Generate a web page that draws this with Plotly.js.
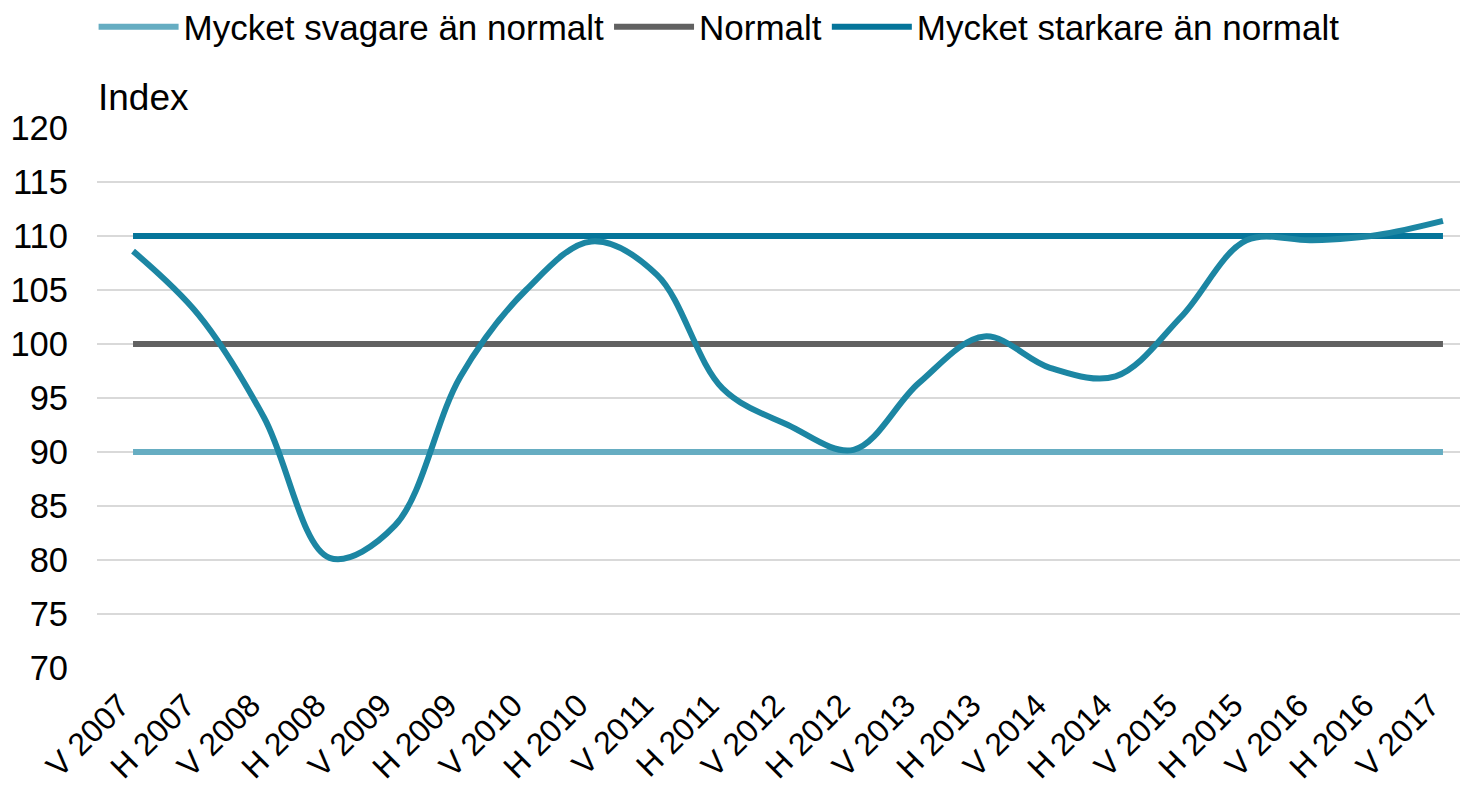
<!DOCTYPE html>
<html>
<head>
<meta charset="utf-8">
<script src="https://cdn.plot.ly/plotly-3.0.1.min.js"></script>
<style>
  html, body { margin: 0; padding: 0; background: #ffffff; }
  #chart { width: 1464px; height: 789px; }
</style>
</head>
<body>
<div id="chart"></div>
<script>
const categories = ["V 2007","H 2007","V 2008","H 2008","V 2009","H 2009","V 2010","H 2010","V 2011","H 2011",
                    "V 2012","H 2012","V 2013","H 2013","V 2014","H 2014","V 2015","H 2015","V 2016","H 2016","V 2017"];
const indexValues = [108.6,102.7,93.2,80.2,83.2,97.0,105.0,109.5,106.4,95.9,
                     92.5,90.2,96.4,100.7,97.8,97.0,102.5,109.6,109.6,110.1,111.4];
const muchWeaker = [90,90,90,90,90,90,90,90,90,90,90,90,90,90,90,90,90,90,90,90,90];
const normal     = [100,100,100,100,100,100,100,100,100,100,100,100,100,100,100,100,100,100,100,100,100];
const muchStronger = [110,110,110,110,110,110,110,110,110,110,110,110,110,110,110,110,110,110,110,110,110];
const seriesNames = ["Mycket svagare än normalt","Normalt","Mycket starkare än normalt"];
const yTicks = [70,75,80,85,90,95,100,105,110,115,120];

const FONT = "Liberation Sans, Arial, sans-serif";
const FS = 34.5;

const traces = [
  {x: categories, y: muchWeaker, name: seriesNames[0], type: "scatter", mode: "lines",
   line: {color: "#66adc2", width: 6}, hoverinfo: "skip"},
  {x: categories, y: normal, name: seriesNames[1], type: "scatter", mode: "lines",
   line: {color: "#616161", width: 6}, hoverinfo: "skip"},
  {x: categories, y: muchStronger, name: seriesNames[2], type: "scatter", mode: "lines",
   line: {color: "#05759a", width: 6}, hoverinfo: "skip"},
  {x: categories, y: indexValues, name: "Index", type: "scatter", mode: "lines", showlegend: false,
   line: {color: "#1c86a3", width: 6, shape: "spline", smoothing: 1}}
];

const layout = {
  width: 1464, height: 789,
  paper_bgcolor: "#ffffff", plot_bgcolor: "#ffffff",
  margin: {l: 97, r: 4, t: 128, b: 121, autoexpand: false},
  font: {family: FONT, size: FS, color: "#000000"},
  showlegend: true,
  legend: {orientation: "h", x: -0.0025, xanchor: "left", y: 1.187, yanchor: "middle",
           font: {family: FONT, size: 35, color: "#000000"}, itemwidth: 80,
           bgcolor: "rgba(0,0,0,0)", traceorder: "normal"},
  xaxis: {type: "category", range: [-0.55, 20.26], showgrid: false, zeroline: false, showline: false,
          ticks: "", tickangle: -45, tickfont: {family: FONT, size: 32, color: "#000000"},
          ticklabelstandoff: 11, ticklabelshift: -13, fixedrange: true},
  yaxis: {range: [70, 120], tickvals: yTicks, ticktext: yTicks.map(String), showgrid: true,
          gridcolor: "#d9d9d9", gridwidth: 1.5, zeroline: false, showline: false, ticks: "",
          tickfont: {family: FONT, size: FS, color: "#000000"}, ticklabelstandoff: 28, fixedrange: true},
  annotations: [
    {text: "Index", xref: "paper", yref: "paper", x: -0.001, y: 1.057, xanchor: "left", yanchor: "middle",
     showarrow: false, font: {family: FONT, size: 37, color: "#000000"}}
  ]
};

Plotly.newPlot("chart", traces, layout, {displayModeBar: false, staticPlot: true});
</script>
</body>
</html>
